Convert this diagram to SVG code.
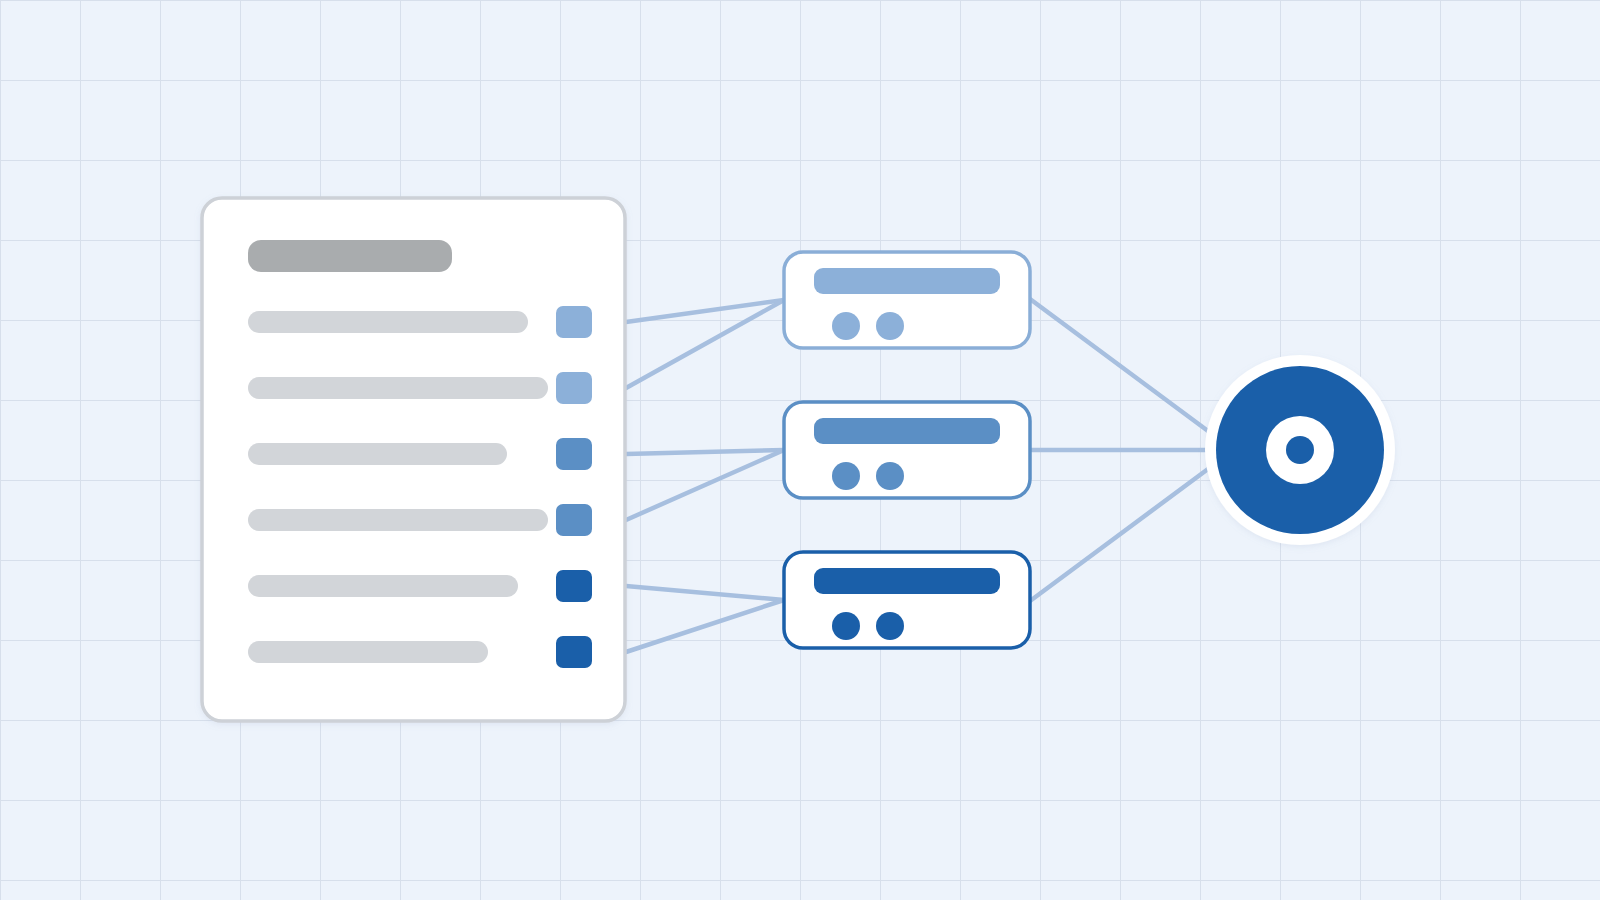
<svg xmlns="http://www.w3.org/2000/svg" width="1600" height="900" viewBox="0 0 1600 900">
  <defs>
    <pattern id="grid" width="80" height="80" patternUnits="userSpaceOnUse">
      <path d="M0 0 H80 M0 0 V80" fill="none" stroke="#d7dfeb" stroke-width="2"/>
    </pattern>
    <filter id="soft" x="-10%" y="-10%" width="120%" height="120%">
      <feDropShadow dx="0" dy="2" stdDeviation="3" flood-color="#8aa0c0" flood-opacity="0.15"/>
    </filter>
  </defs>
  <style>
    .conn { stroke: #a7bfdf; stroke-width: 4.5; fill: none; stroke-linecap: round; }
    .bar { fill: #d2d5d9; }
    .c1 { fill: #8cb0d9; }
    .c2 { fill: #5b8fc5; }
    .c3 { fill: #1a5fa9; }
    .box { fill: #ffffff; stroke-width: 3.5; }
  </style>
  <rect width="1600" height="900" fill="#edf3fb"/>
  <rect width="1600" height="900" fill="url(#grid)"/>

  <g id="connectors">
    <line class="conn" x1="626" y1="322" x2="784" y2="300"/>
    <line class="conn" x1="626" y1="388" x2="784" y2="300"/>
    <line class="conn" x1="626" y1="454" x2="784" y2="450"/>
    <line class="conn" x1="626" y1="520" x2="784" y2="450"/>
    <line class="conn" x1="626" y1="586" x2="784" y2="600"/>
    <line class="conn" x1="626" y1="652" x2="784" y2="600"/>
    <line class="conn" x1="1030" y1="299" x2="1208" y2="431"/>
    <line class="conn" x1="1030" y1="450" x2="1208" y2="450"/>
    <line class="conn" x1="1030" y1="601" x2="1208" y2="469"/>
  </g>

  <g id="list-card">
    <rect x="202" y="198" width="423" height="523" rx="20" fill="#ffffff" stroke="#cdd1d7" stroke-width="3.5" filter="url(#soft)"/>
    <rect x="248" y="240" width="204" height="32" rx="13" fill="#a9acae"/>
    <rect class="bar" x="248" y="311" width="280" height="22" rx="11"/>
    <rect class="bar" x="248" y="377" width="300" height="22" rx="11"/>
    <rect class="bar" x="248" y="443" width="259" height="22" rx="11"/>
    <rect class="bar" x="248" y="509" width="300" height="22" rx="11"/>
    <rect class="bar" x="248" y="575" width="270" height="22" rx="11"/>
    <rect class="bar" x="248" y="641" width="240" height="22" rx="11"/>
    <rect class="c1" x="556" y="306" width="36" height="32" rx="7"/>
    <rect class="c1" x="556" y="372" width="36" height="32" rx="7"/>
    <rect class="c2" x="556" y="438" width="36" height="32" rx="7"/>
    <rect class="c2" x="556" y="504" width="36" height="32" rx="7"/>
    <rect class="c3" x="556" y="570" width="36" height="32" rx="7"/>
    <rect class="c3" x="556" y="636" width="36" height="32" rx="7"/>
  </g>

  <g id="node-1">
    <rect class="box" x="784" y="252" width="246" height="96" rx="19" stroke="#8aaed7"/>
    <rect class="c1" x="814" y="268" width="186" height="26" rx="9"/>
    <circle class="c1" cx="846" cy="326" r="14"/>
    <circle class="c1" cx="890" cy="326" r="14"/>
  </g>
  <g id="node-2">
    <rect class="box" x="784" y="402" width="246" height="96" rx="19" stroke="#5b8fc5"/>
    <rect class="c2" x="814" y="418" width="186" height="26" rx="9"/>
    <circle class="c2" cx="846" cy="476" r="14"/>
    <circle class="c2" cx="890" cy="476" r="14"/>
  </g>
  <g id="node-3">
    <rect class="box" x="784" y="552" width="246" height="96" rx="19" stroke="#1a5fa9"/>
    <rect class="c3" x="814" y="568" width="186" height="26" rx="9"/>
    <circle class="c3" cx="846" cy="626" r="14"/>
    <circle class="c3" cx="890" cy="626" r="14"/>
  </g>

  <g id="target">
    <circle cx="1300" cy="450" r="95" fill="#ffffff" filter="url(#soft)"/>
    <circle class="c3" cx="1300" cy="450" r="84"/>
    <circle cx="1300" cy="450" r="34" fill="#ffffff"/>
    <circle class="c3" cx="1300" cy="450" r="14"/>
  </g>
</svg>
